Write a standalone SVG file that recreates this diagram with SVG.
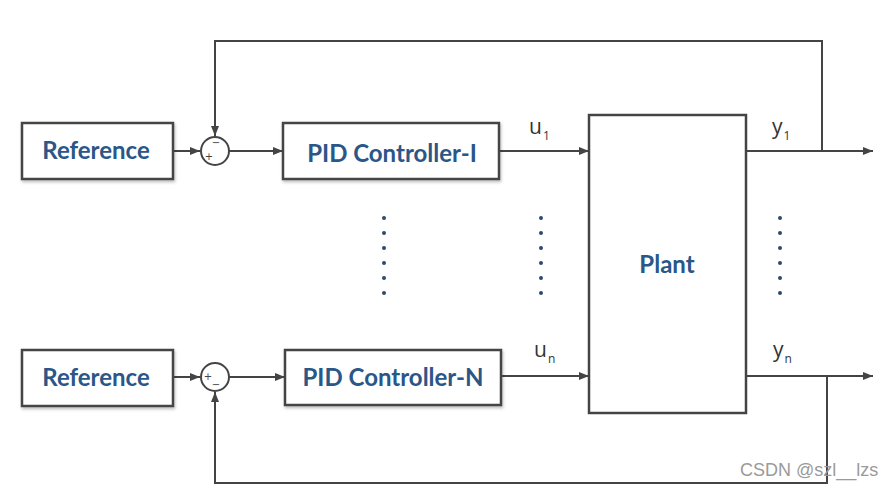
<svg xmlns="http://www.w3.org/2000/svg" width="892" height="488" viewBox="0 0 892 488">
<defs>
<style>
.box{fill:#fff;stroke:#444;stroke-width:2.5}
.lbl{font-family:Lato,"Open Sans",sans-serif;font-weight:bold;fill:#2a5688;font-size:24px;text-anchor:middle}
.wire{fill:none;stroke:#444;stroke-width:2}
.sum{fill:#fff;stroke:#444;stroke-width:2}
.sig{font-family:"Open Sans","DejaVu Sans",sans-serif;fill:#333;font-size:21px}
.sub{font-size:12px}
.sign{font-family:"DejaVu Sans",sans-serif;fill:#444;font-size:10px;text-anchor:middle}
.dot{fill:#2d4a6e}
.wm{font-family:"Liberation Sans",Arial,sans-serif;fill:#9a9a9a;font-size:18px}
</style>
<marker id="arr" viewBox="0 0 10 10" refX="10" refY="5" markerWidth="10" markerHeight="10" markerUnits="userSpaceOnUse" orient="auto">
<path d="M0,1 L10,5 L0,9 Z" fill="#444"/>
</marker>
<filter id="sh" x="-10%" y="-10%" width="130%" height="140%">
<feDropShadow dx="1" dy="2" stdDeviation="1.5" flood-color="#000" flood-opacity="0.25"/>
</filter>
</defs>
<rect width="892" height="488" fill="#fff"/>
<g id="connectors">
<path class="wire" d="M173,151 H200" marker-end="url(#arr)"/>
<path class="wire" d="M229,151 H283" marker-end="url(#arr)"/>
<path class="wire" d="M499,151 H589" marker-end="url(#arr)"/>
<path class="wire" d="M746,151 H873" marker-end="url(#arr)"/>
<path class="wire" d="M822,151 V41 H215 V136" marker-end="url(#arr)"/>
<path class="wire" d="M173,377 H200" marker-end="url(#arr)"/>
<path class="wire" d="M229,377 H285" marker-end="url(#arr)"/>
<path class="wire" d="M501,376 H589" marker-end="url(#arr)"/>
<path class="wire" d="M746,376 H873" marker-end="url(#arr)"/>
<path class="wire" d="M827,376 V483 H215 V392" marker-end="url(#arr)"/>
</g>
<g id="ref1"><rect class="box" x="22" y="123" width="151" height="56" filter="url(#sh)"/><text class="lbl" x="96" y="159">Reference</text></g>
<g id="sum1"><circle class="sum" cx="215" cy="151" r="14"/><text class="sign" x="216" y="146">−</text><text class="sign" x="209" y="160">+</text></g>
<g id="pid1"><rect class="box" x="283" y="123" width="216" height="56" filter="url(#sh)"/><text class="lbl" x="392" y="162">PID Controller-I</text></g>
<g id="ref2"><rect class="box" x="22" y="350" width="151" height="56" filter="url(#sh)"/><text class="lbl" x="96" y="386">Reference</text></g>
<g id="sum2"><circle class="sum" cx="215" cy="377" r="14"/><text class="sign" x="208" y="380">+</text><text class="sign" x="216" y="388">−</text></g>
<g id="pidN"><rect class="box" x="285" y="350" width="216" height="55" filter="url(#sh)"/><text class="lbl" x="393" y="386">PID Controller-N</text></g>
<g id="plant"><rect class="box" x="589" y="115" width="157" height="298"/><text class="lbl" x="667" y="273">Plant</text></g>
<g id="labels">
<text class="sig" x="529" y="134">u<tspan class="sub" dx="1" dy="6">1</tspan></text>
<text class="sig" x="772" y="134">y<tspan class="sub" dx="1" dy="6">1</tspan></text>
<text class="sig" x="534" y="357">u<tspan class="sub" dx="1" dy="6">n</tspan></text>
<text class="sig" x="773" y="357">y<tspan class="sub" dx="1" dy="6">n</tspan></text>
</g>
<g id="dots">
<circle class="dot" cx="384" cy="218" r="2"/><circle class="dot" cx="384" cy="233" r="2"/><circle class="dot" cx="384" cy="248" r="2"/><circle class="dot" cx="384" cy="263" r="2"/><circle class="dot" cx="384" cy="278" r="2"/><circle class="dot" cx="384" cy="293" r="2"/>
<circle class="dot" cx="541" cy="218" r="2"/><circle class="dot" cx="541" cy="233" r="2"/><circle class="dot" cx="541" cy="248" r="2"/><circle class="dot" cx="541" cy="263" r="2"/><circle class="dot" cx="541" cy="278" r="2"/><circle class="dot" cx="541" cy="293" r="2"/>
<circle class="dot" cx="780" cy="218" r="2"/><circle class="dot" cx="780" cy="233" r="2"/><circle class="dot" cx="780" cy="248" r="2"/><circle class="dot" cx="780" cy="263" r="2"/><circle class="dot" cx="780" cy="278" r="2"/><circle class="dot" cx="780" cy="293" r="2"/>
</g>
<text class="wm" x="740" y="476">CSDN @szl__lzs</text>
</svg>
